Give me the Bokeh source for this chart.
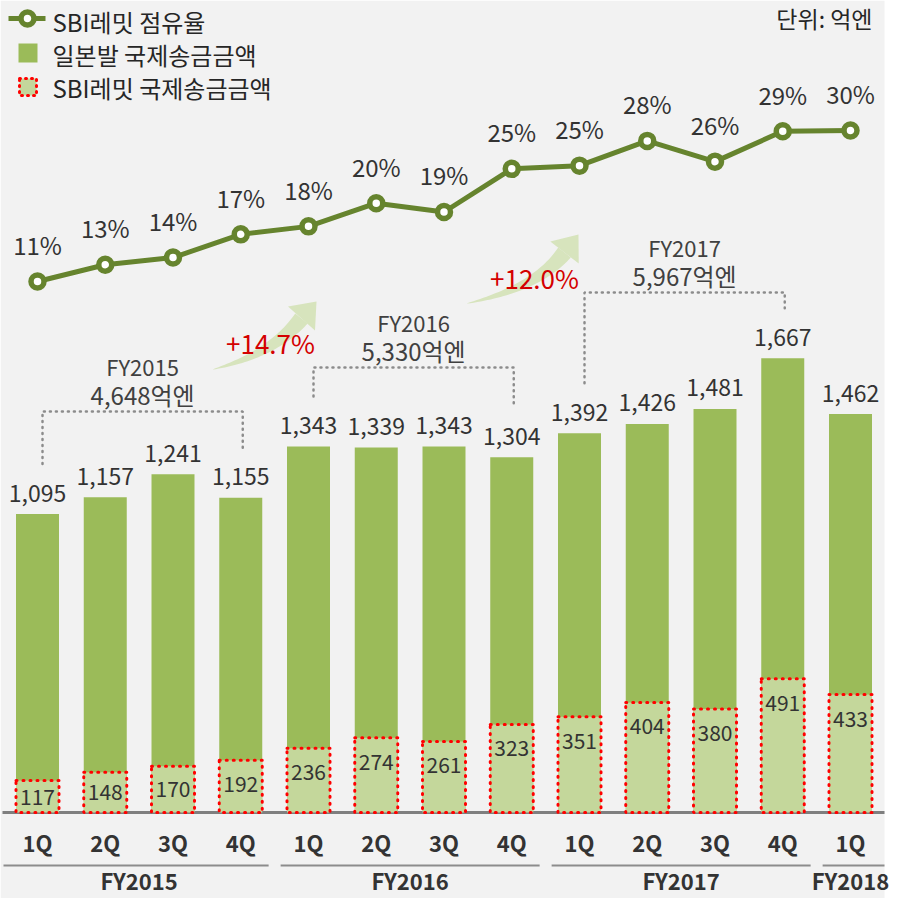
import numpy as np
from bokeh.plotting import figure
from bokeh.models import Range1d
from bokeh.core.properties import value
from bokeh.embed import file_html
from bokeh.resources import INLINE

# ---------------- data ----------------
quarters = ["1Q", "2Q", "3Q", "4Q", "1Q", "2Q", "3Q", "4Q", "1Q", "2Q", "3Q", "4Q", "1Q"]
fiscal_years = ["FY2015", "FY2016", "FY2017", "FY2018"]
fy_sizes = [4, 4, 4, 1]
total_remit = [1095, 1157, 1241, 1155, 1343, 1339, 1343, 1304, 1392, 1426, 1481, 1667, 1462]
sbi_remit = [117, 148, 170, 192, 236, 274, 261, 323, 351, 404, 380, 491, 433]
sbi_share = [10.7, 12.8, 13.7, 16.6, 17.6, 20.5, 19.4, 24.8, 25.2, 28.3, 25.7, 29.5, 29.6]
share_labels = ["11%", "13%", "14%", "17%", "18%", "20%", "19%", "25%", "25%", "28%", "26%", "29%", "30%"]
fy_totals = ["4,648억엔", "5,330억엔", "5,967억엔"]
growth_labels = ["+14.7%", "+12.0%"]
legend_labels = ["SBI레밋 점유율", "일본발 국제송금금액", "SBI레밋 국제송금금액"]
unit_label = "단위: 억엔"

# ---------------- layout ----------------
W = 898
H = 898
XS = 67.75          # px per category
X0 = -37 / XS
BASE = H - 812      # px from bottom to baseline
YS = 0.2725         # px per 억엔
PS = 7.99           # px per %
P0 = (H - 281) - 10.7 * PS   # px from bottom of 0%

FONT = value("Noto Sans CJK KR")
TXT = "#333333"
GREEN = "#9bbb59"
LIGHT = "#c4d79b"
LINEC = "#66842e"
RED = "#ff0000"


def dx(rx):
    return X0 + rx / XS


def dy(ry):
    return (H - ry - BASE) / YS


p = figure(width=W, height=H,
           x_range=Range1d(X0, X0 + W / XS),
           y_range=Range1d(-BASE / YS, (H - BASE) / YS),
           output_backend="svg", toolbar_location=None,
           x_axis_location=None, y_axis_location=None,
           min_border=0, outline_line_color=None,
           background_fill_color="white", border_fill_color="white")
p.grid.visible = False
p.extra_y_ranges = {"pct": Range1d(-P0 / PS, (H - P0) / PS)}

# gray panel
p.quad(left=[dx(0)], right=[dx(884)], top=[dy(0)], bottom=[dy(898)],
       fill_color="#f2f2f2", line_color=None)

xs = list(range(len(total_remit)))
BW = 43 / XS

# bars
p.vbar(x=xs, top=total_remit, width=BW, bottom=0, fill_color=GREEN, line_color=None)
p.segment(x0=[dx(2)], y0=[0], x1=[dx(884)], y1=[0], line_color="#7f7f7f", line_width=3)
p.vbar(x=xs, top=sbi_remit, width=BW, bottom=0, fill_color=LIGHT, line_color=RED,
       line_width=3, line_dash="1 6", line_cap="round")

# bar labels
p.text(x=xs, y=[v + 21 / YS for v in total_remit], text=[f"{v:,}" for v in total_remit],
       text_font=FONT, text_font_size="23px", text_align="center", text_baseline="middle",
       text_color=TXT)
inner_y = [v - min(v * YS / 2, 24) / YS for v in sbi_remit]
p.text(x=xs, y=inner_y, text=[str(v) for v in sbi_remit],
       text_font=FONT, text_font_size="21px", text_align="center", text_baseline="middle",
       text_color=TXT)

# category labels
p.text(x=xs, y=[dy(841)] * len(xs), text=quarters, text_font=FONT, text_font_size="22px",
       text_font_style="bold", text_align="center", text_baseline="middle", text_color=TXT)

# group lines & labels
starts = np.cumsum([0] + fy_sizes[:-1])
for g, (s, n) in enumerate(zip(starts, fy_sizes)):
    left = s - 0.5 + 6 / XS if g > 0 else dx(3)
    right = s + n - 0.5 - 6 / XS if g < len(fy_sizes) - 1 else dx(884)
    p.line([left, right], [dy(865)] * 2, line_color="#8c8c8c", line_width=2)
p.text(x=[s + (n - 1) / 2 for s, n in zip(starts, fy_sizes)], y=[dy(879)] * len(fiscal_years),
       text=fiscal_years, text_font=FONT, text_font_size="22px", text_font_style="bold",
       text_align="center", text_baseline="middle", text_color=TXT)

# brackets
bracket_top = [411, 367, 292]
for g in range(3):
    i0 = starts[g]
    i1 = starts[g] + fy_sizes[g] - 1
    xl = i0 + 5 / XS
    xr = i1 + 2 / XS
    yt = dy(bracket_top[g])
    yl = total_remit[i0] + 50 / YS
    yr = total_remit[i1] + 50 / YS
    p.line([xl, xl, xr, xr], [yl, yt, yt, yr], line_color="#8c8c8c", line_width=2.5,
           line_dash="1 5", line_cap="round")
    xm = (xl + xr) / 2
    p.text(x=[xm], y=[yt + 46 / YS], text=[fiscal_years[g]], text_font=FONT,
           text_font_size="22px", text_align="center", text_baseline="middle", text_color="#404040")
    p.text(x=[xm], y=[yt + 17 / YS], text=[fy_totals[g]], text_font=FONT,
           text_font_size="24px", text_align="center", text_baseline="middle", text_color="#404040")


# growth arrows
def arrow(T, C, B, P, wb, wh):
    T, C, B, P = map(np.array, (T, C, B, P))
    t = np.linspace(0, 1, 40)
    pts = ((1 - t) ** 2)[:, None] * T + (2 * (1 - t) * t)[:, None] * C + (t ** 2)[:, None] * B
    d = (2 * (1 - t))[:, None] * (C - T) + (2 * t)[:, None] * (B - C)
    d = d / np.linalg.norm(d, axis=1)[:, None]
    nrm = np.stack([-d[:, 1], d[:, 0]], axis=1)
    hw = (wb / 2 * t ** 0.8)[:, None]
    lft = pts + nrm * hw
    rgt = pts - nrm * hw
    poly = np.vstack([lft, rgt[::-1]])
    u = (P - B) / np.linalg.norm(P - B)
    nn = np.array([-u[1], u[0]])
    head = np.array([B + nn * wh / 2, P, B - nn * wh / 2])
    for shape in (poly, head):
        p.patch([dx(v) for v in shape[:, 0]], [dy(v) for v in shape[:, 1]],
                fill_color="#d7e4bd", line_color=None)


arrow((212, 369), (272, 354), (301, 318), (316, 301), 16, 36)
arrow((466, 303), (536, 288), (564, 252), (578, 234), 16, 36)
p.text(x=[dx(270), dx(534)], y=[dy(342), dy(277)], text=growth_labels, text_font=FONT,
       text_font_size="26px", text_align="center", text_baseline="middle", text_color="#d40000")

# share line
p.line(xs, sbi_share, y_range_name="pct", line_color=LINEC, line_width=5)
p.scatter(xs, sbi_share, y_range_name="pct", size=13, fill_color="white", line_color=LINEC,
          line_width=5.5)
p.text(x=xs, y=[v + 37 / PS for v in sbi_share], text=share_labels, y_range_name="pct",
       text_font=FONT, text_font_size="24px", text_align="center", text_baseline="middle",
       text_color=TXT)

# legend
p.line([dx(8), dx(45)], [dy(18)] * 2, line_color=LINEC, line_width=5)
p.scatter([dx(27)], [dy(18)], size=13, fill_color="white", line_color=LINEC, line_width=5.5)
p.quad(left=[dx(18)], right=[dx(37)], top=[dy(43)], bottom=[dy(62)], fill_color=GREEN,
       line_color=None)
p.quad(left=[dx(19)], right=[dx(36)], top=[dy(78)], bottom=[dy(95)], fill_color=LIGHT,
       line_color=RED, line_width=3, line_dash="1 5", line_cap="round")
p.text(x=[dx(52)] * 3, y=[dy(21), dy(54), dy(87)], text=legend_labels, text_font=FONT,
       text_font_size="24px", text_align="left", text_baseline="middle", text_color="#262626")
p.text(x=[dx(872)], y=[dy(17)], text=[unit_label], text_font=FONT, text_font_size="23px",
       text_align="right", text_baseline="middle", text_color="#262626")

open("out.html", "w").write(file_html(p, INLINE))
